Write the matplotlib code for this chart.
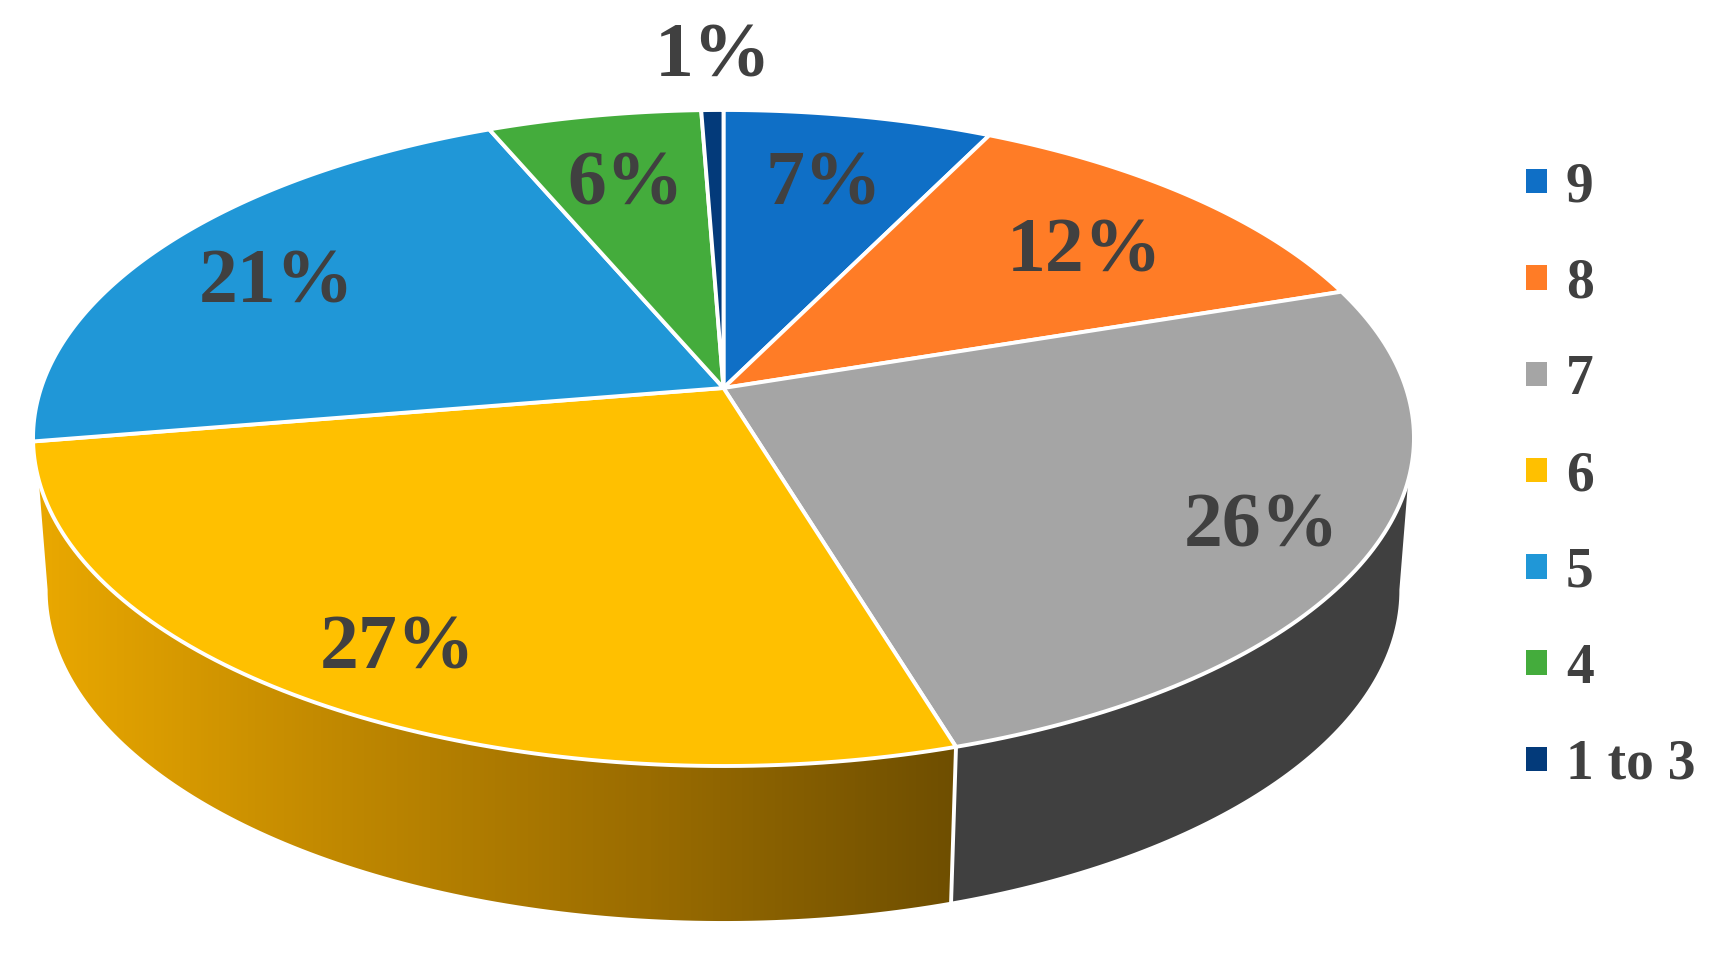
import numpy as np
import matplotlib
matplotlib.use('Agg')
import matplotlib.pyplot as plt
from matplotlib.colors import LinearSegmentedColormap
from matplotlib.patches import Patch, Polygon

# clockwise from twelve o'clock
categories = ['9', '8', '7', '6', '5', '4', '1 to 3']
shares = [7.3, 12.6, 25.4, 27.1, 21.2, 5.8, 0.6]
labels = ['7%', '12%', '26%', '27%', '21%', '6%', '1%']
colors = ['#0F6FC6', '#FF7C26', '#A5A5A5', '#FFC000', '#2097D7', '#44AC3C', '#033A7A']

# label centres, in pixels
label_x = [824, 1085, 1261, 398, 277, 626, 713]
label_y = [186, 253, 528, 650, 284, 186, 58]

K = 0.1524
TEXT = '#404040'
WALL_GRAY = '#404040'
WALL_YELLOW = ['#EBA900', '#C08800', '#9A6C00', '#6E4E00']


def project(angle, cy, a, b):
    # disc seen in perspective, angle in degrees clockwise from the top
    t = np.radians(angle)
    u, v = np.sin(t), np.cos(t)
    w = 1 + K * v
    return np.column_stack((723.5 + a * u / w, cy - b * v / w))


def top(angle):
    return project(angle, 388.0, 682.4, 320.4)


def bottom(angle):
    return project(angle, 539.6, 668.0, 323.3)


plt.rcParams['font.family'] = ['Liberation Serif', 'DejaVu Serif']
fig = plt.figure(figsize=(17.24, 9.56), dpi=100)
ax = fig.add_axes([0, 0, 1, 1])
ax.set_xlim(0, 1724)
ax.set_ylim(956, 0)
ax.axis('off')

edges = np.cumsum([0] + shares) * 3.6
edges[-1] = 360.0
front = edges[3]

# side wall, gray part and yellow part
gray_side = np.vstack((top(np.linspace(106, front, 80)), bottom(np.linspace(front, 98.7, 80))))
yellow_side = np.vstack((top(np.linspace(front, 254, 120)), bottom(np.linspace(261.3, front, 120))))
ax.add_patch(Polygon(gray_side, closed=True, fc=WALL_GRAY, ec='none', zorder=1))

yellow_patch = Polygon(yellow_side, closed=True, fc='none', ec='none', zorder=1)
ax.add_patch(yellow_patch)
cmap = LinearSegmentedColormap.from_list('side', WALL_YELLOW)
im = ax.imshow(np.linspace(0, 1, 256).reshape(1, -1), cmap=cmap, aspect='auto',
               extent=(30, 960, 925, 430), zorder=1)
im.set_clip_path(yellow_patch)
ax.set_xlim(0, 1724)
ax.set_ylim(956, 0)

seam = np.vstack((top(np.array([front])), bottom(np.array([front]))))
ax.plot(seam[:, 0], seam[:, 1], color='white', lw=2.8, zorder=2)

# top of the pie
for i, share in enumerate(shares):
    arc = top(np.linspace(edges[i], edges[i + 1], 100))
    pts = np.vstack(([[723.5, 388.0]], arc))
    ax.add_patch(Polygon(pts, closed=True, fc=colors[i], ec='white', lw=2.8,
                         joinstyle='round', zorder=3))

for x, y, s in zip(label_x, label_y, labels):
    ax.text(x, y, s, fontsize=56, fontweight='bold', color=TEXT,
            ha='center', va='center', zorder=4)

handles = [Patch(fc=c, ec='none', label=n) for c, n in zip(colors, categories)]
ax.legend(handles=handles, loc='center left', bbox_to_anchor=(1526 / 1724, 1 - 476 / 956),
          frameon=False, labelcolor=TEXT, handlelength=0.38, handleheight=0.3,
          handletextpad=0.34, labelspacing=0.797, borderpad=0, borderaxespad=0,
          prop={'family': 'Liberation Serif', 'weight': 'bold', 'size': 40})

fig.savefig('out.png', dpi=100, facecolor='white')
